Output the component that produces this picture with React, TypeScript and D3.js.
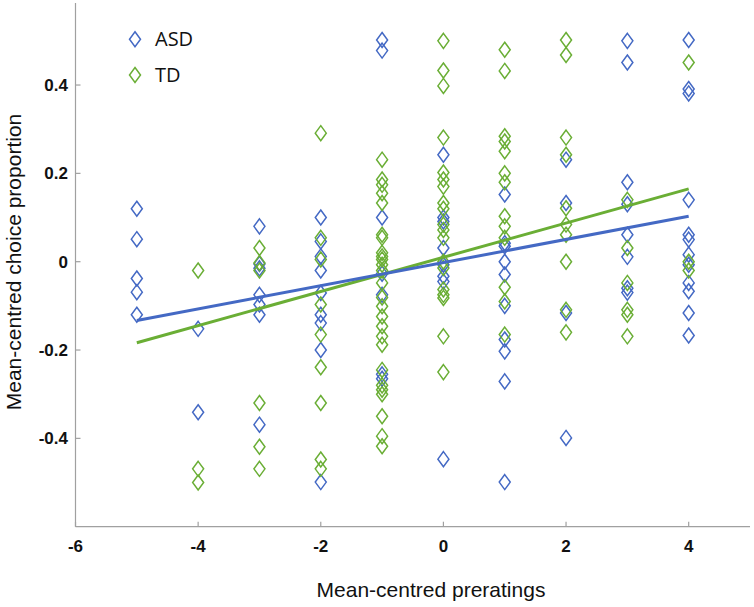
import React from "react";
import * as d3 from "d3";

// prerating levels (one column of points per level)
const levels = [-5, -4, -3, -2, -1, 0, 1, 2, 3, 4];

// ASD group, mean-centred choice proportion per level
const asdValues = [
  [0.12, 0.051, -0.038, -0.069, -0.12],
  [-0.152, -0.341],
  [0.08, -0.005, -0.015, -0.075, -0.097, -0.12, -0.369],
  [0.1, 0.046, 0.012, -0.02, -0.071, -0.12, -0.139, -0.2, -0.499],
  [0.502, 0.478, 0.1, -0.027, -0.075, -0.255, -0.265],
  [0.242, 0.1, 0.091, 0.031, -0.007, -0.033, -0.045, -0.447],
  [0.152, 0.042, 0.035, 0.0, -0.029, -0.1, -0.176, -0.203, -0.271, -0.499],
  [0.231, 0.133, -0.116, -0.399],
  [0.5, 0.451, 0.18, 0.13, 0.061, 0.011, -0.06, -0.07],
  [0.502, 0.391, 0.381, 0.14, 0.061, 0.05, 0.016, -0.007, -0.048, -0.067, -0.116, -0.167],
];

// TD group
const tdValues = [
  [],
  [-0.02, -0.469, -0.5],
  [0.031, -0.003, -0.02, -0.32, -0.419, -0.469],
  [0.291, 0.054, 0.005, -0.097, -0.165, -0.239, -0.32, -0.448, -0.469],
  [0.231, 0.186, 0.174, 0.155, 0.133, 0.061, 0.054, 0.02, 0.012, 0.005, -0.007, -0.02, -0.048, -0.081, -0.101, -0.124, -0.146, -0.169, -0.188, -0.245, -0.28, -0.29, -0.3, -0.35, -0.395, -0.418],
  [0.5, 0.433, 0.398, 0.281, 0.202, 0.186, 0.17, 0.133, 0.12, 0.084, 0.072, 0.054, 0.0, -0.014, -0.063, -0.075, -0.082, -0.169, -0.25],
  [0.48, 0.432, 0.284, 0.272, 0.25, 0.2, 0.18, 0.103, 0.08, 0.054, -0.058, -0.09, -0.165],
  [0.502, 0.468, 0.281, 0.242, 0.121, 0.084, 0.061, 0.0, -0.109, -0.16],
  [0.14, 0.031, -0.048, -0.109, -0.12, -0.169],
  [0.451, 0.0, -0.02],
];

// linear fits [intercept, slope]
const asdFit = [-0.002, 0.0262];
const tdFit = [0.01, 0.0387];

const xTicks = [-6, -4, -2, 0, 2, 4];
const yTicks = [-0.4, -0.2, 0, 0.2, 0.4];

const BLUE = "#4469c4";
const GREEN = "#6aae35";
const AXIS = "#a0a0a0";

const W = 754;
const H = 607;

function diamond(cx: number, cy: number, w = 11, h = 15) {
  const p = d3.path();
  p.moveTo(cx, cy - h / 2);
  p.lineTo(cx + w / 2, cy);
  p.lineTo(cx, cy + h / 2);
  p.lineTo(cx - w / 2, cy);
  p.closePath();
  return p.toString();
}

// plain hyphen minus, like the original
const fmtY = (t: number) => (t === 0 ? "0" : t.toFixed(1));

export default function App() {
  const x = d3.scaleLinear().domain([-6, 5]).range([75.5, 750]);
  const y = d3.scaleLinear().domain([-0.6, 0.6]).range([526.7, -3.3]);

  const fitLine = (fit: number[]) =>
    d3
      .line<number>()
      .x((d) => x(d))
      .y((d) => y(fit[0] + fit[1] * d))([levels[0], levels[levels.length - 1]]) ?? "";

  const points = (vals: number[][], color: string) =>
    vals.flatMap((col, i) =>
      col.map((v, j) => (
        <path
          key={`${color}-${i}-${j}`}
          d={diamond(x(levels[i]), y(v))}
          fill="none"
          stroke={color}
          strokeWidth={1.5}
        />
      ))
    );

  const [y0] = y.range();
  const [x0, x1] = x.range();

  return (
    <svg
      width={W}
      height={H}
      style={{ position: "absolute", left: 0, top: 0, background: "#fff" }}
      fontFamily="'Liberation Sans', Arial, sans-serif"
    >
      {/* axes */}
      <line x1={x0} x2={x0} y1={3} y2={y0} stroke={AXIS} strokeWidth={1.2} />
      <line x1={x0} x2={x1} y1={y0} y2={y0} stroke={AXIS} strokeWidth={1.2} />
      {yTicks.map((t) => (
        <g key={`y${t}`}>
          <line x1={x0} x2={x0 + 5} y1={y(t)} y2={y(t)} stroke={AXIS} strokeWidth={1.2} />
          <text
            x={68}
            y={y(t)}
            dy="0.36em"
            textAnchor="end"
            fontSize={17}
            fontWeight="bold"
            fill="#111"
          >
            {fmtY(t)}
          </text>
        </g>
      ))}
      {xTicks.map((t) => (
        <g key={`x${t}`}>
          <line x1={x(t)} x2={x(t)} y1={y0} y2={y0 - 5} stroke={AXIS} strokeWidth={1.2} />
          <text
            x={x(t)}
            y={552}
            textAnchor="middle"
            fontSize={17}
            fontWeight="bold"
            fill="#111"
          >
            {String(t)}
          </text>
        </g>
      ))}

      {/* axis titles */}
      <text x={431} y={597} textAnchor="middle" fontSize={21} fill="#111">
        Mean-centred preratings
      </text>
      <text
        transform={`translate(21, 262) rotate(-90)`}
        textAnchor="middle"
        fontSize={21}
        fill="#111"
      >
        Mean-centred choice proportion
      </text>

      {/* points */}
      {points(asdValues, BLUE)}
      {points(tdValues, GREEN)}

      {/* fits */}
      <path d={fitLine(tdFit)} stroke={GREEN} strokeWidth={3} fill="none" />
      <path d={fitLine(asdFit)} stroke={BLUE} strokeWidth={3} fill="none" />

      {/* legend */}
      <path d={diamond(135, 39.3)} fill="none" stroke={BLUE} strokeWidth={1.5} />
      <text x={155} y={45.5} fontSize={20} fontFamily="'Open Sans', sans-serif" fill="#111">
        ASD
      </text>
      <path d={diamond(135, 75)} fill="none" stroke={GREEN} strokeWidth={1.5} />
      <text x={155} y={82} fontSize={20} fontFamily="'Open Sans', sans-serif" fill="#111">
        TD
      </text>
    </svg>
  );
}
